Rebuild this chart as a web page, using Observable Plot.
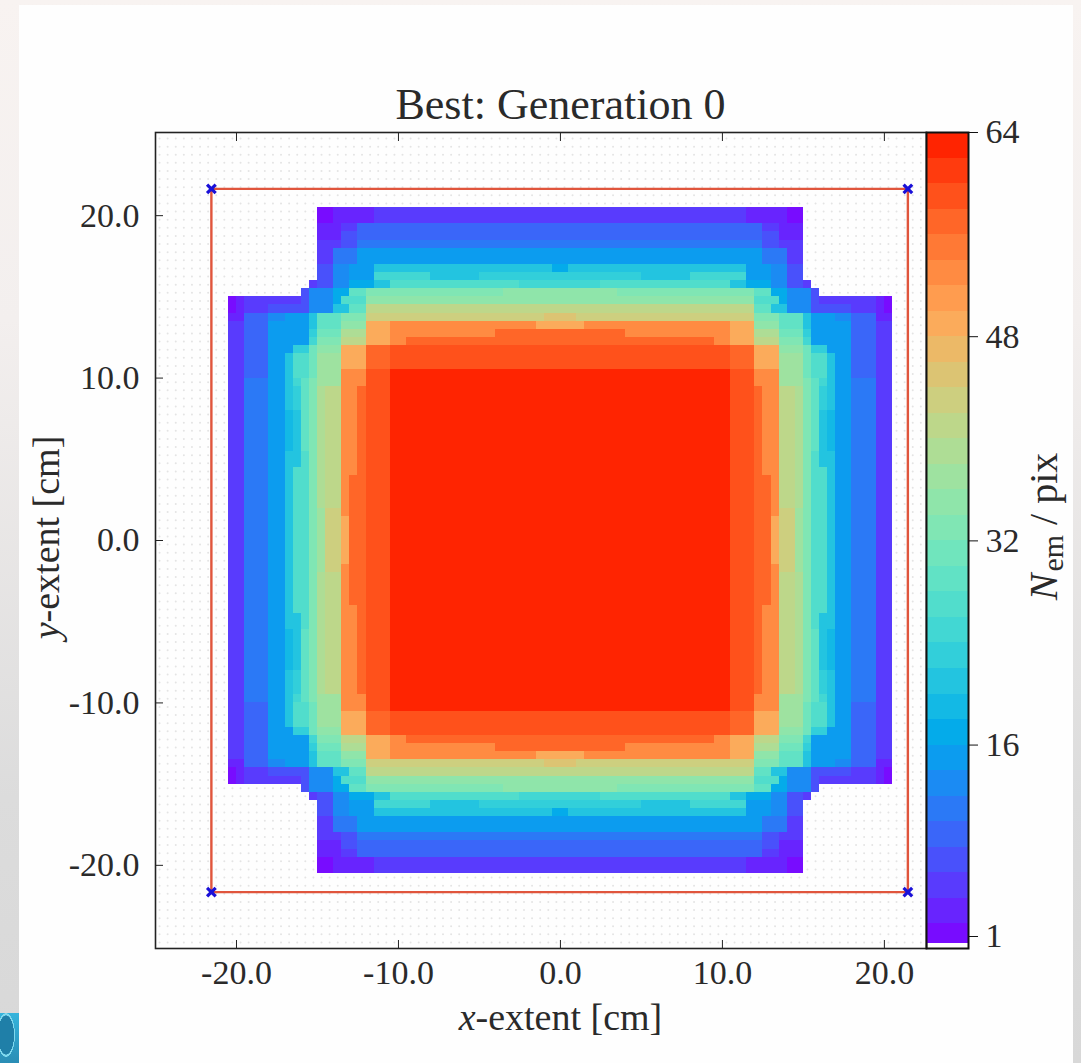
<!DOCTYPE html>
<html><head><meta charset="utf-8">
<script src="https://cdn.jsdelivr.net/npm/d3@7"></script>
<script src="https://cdn.jsdelivr.net/npm/@observablehq/plot@0.6"></script>
<style>
html,body{margin:0;padding:0;width:1081px;height:1063px;overflow:hidden}
body{position:relative;background:linear-gradient(180deg,#f8f3f1 0%,#f3efee 30%,#dcdcdc 75%,#d8d8d8 100%)}
#panel{position:absolute;left:19px;top:5px;width:1054px;height:1058px;background:#fefefe}
#logo{position:absolute;left:0;top:1013px;width:19px;height:50px;background:radial-gradient(ellipse 9px 22px at 6px 22px,#1f7fa8 0 88%,#7fd8ee 90% 98%,transparent 100%),linear-gradient(180deg,#35b4dc,#2a8db5)}
#chart,#bar{position:absolute;left:0;top:0}
svg{background:transparent!important;display:block}
</style></head><body>
<div id="panel"></div><div id="logo"></div><div id="chart"></div><div id="bar"></div>
<script>
// Upper-left quadrant of N_em/pix. Each row (top to bottom, y = 20.5 → 0.5 cm):
// pairs of [first column, value]; column 0 is x = -20.5 cm, column 40 is x = -0.5 cm.
const quadrantRows = [
 [0,0, 11,1, 13,3, 18,5],
 [0,0, 11,1, 13,3, 18,5],
 [0,0, 11,3, 14,5, 16,9],
 [0,0, 11,3, 14,7, 16,9],
 [0,0, 11,5, 14,7, 16,11],
 [0,0, 11,5, 13,11, 16,15],
 [0,0, 11,5, 13,11, 16,15],
 [0,0, 11,7, 13,13, 15,15, 18,21, 40,17],
 [0,0, 11,7, 13,13, 15,15, 18,25, 25,21, 31,23],
 [0,0, 10,5, 11,7, 13,13, 15,17, 18,21, 20,27, 36,25],
 [0,0, 9,7, 10,13, 13,17, 15,29, 17,33, 34,35],
 [0,1, 1,3, 2,5, 9,7, 10,13, 13,17, 14,27, 17,35],
 [0,1, 1,3, 2,5, 5,7, 10,13, 13,21, 15,29, 17,41],
 [0,3, 2,9, 5,13, 7,15, 10,21, 11,29, 14,33, 17,43, 39,45],
 [0,5, 2,9, 5,15, 10,21, 11,29, 14,35, 17,49, 20,53, 38,49],
 [0,5, 2,9, 5,15, 10,23, 11,31, 14,39, 17,49, 20,53, 33,57],
 [0,5, 2,9, 5,15, 10,25, 11,33, 14,41, 17,49, 20,53, 22,57],
 [0,5, 2,9, 5,15, 8,23, 10,31, 11,35, 14,49, 17,57, 20,59],
 [0,5, 2,9, 5,15, 7,21, 8,27, 10,31, 11,37, 14,49, 17,57, 20,59],
 [0,5, 2,9, 5,15, 7,21, 8,27, 10,31, 11,37, 14,49, 17,57, 20,59],
 [0,5, 2,9, 5,15, 7,21, 8,27, 10,31, 11,37, 14,53, 17,59, 20,63],
 [0,5, 2,11, 5,15, 7,21, 8,25, 9,29, 10,33, 11,37, 14,53, 17,59, 20,63],
 [0,5, 2,11, 5,15, 7,21, 8,23, 9,29, 10,33, 11,39, 12,41, 14,53, 16,57, 17,59, 20,63],
 [0,5, 2,11, 5,15, 7,21, 8,23, 9,29, 10,33, 11,39, 12,41, 14,53, 16,57, 17,59, 20,63],
 [0,5, 2,11, 5,15, 7,21, 8,23, 9,29, 10,33, 11,39, 12,41, 14,53, 16,57, 17,59, 20,63],
 [0,5, 2,11, 5,15, 7,19, 8,21, 9,29, 10,33, 11,39, 12,41, 14,53, 16,57, 17,59, 20,63],
 [0,5, 2,11, 5,15, 7,19, 8,21, 9,29, 10,33, 11,39, 12,41, 14,53, 16,57, 17,59, 20,63],
 [0,5, 2,11, 5,15, 7,19, 8,21, 9,29, 10,33, 11,39, 12,41, 14,53, 16,57, 17,59, 20,63],
 [0,5, 2,11, 5,15, 7,19, 8,21, 9,29, 10,33, 11,39, 12,41, 14,53, 16,57, 17,59, 20,63],
 [0,5, 2,11, 5,15, 7,19, 8,21, 9,29, 10,33, 11,39, 12,41, 14,53, 16,57, 17,59, 20,63],
 [0,5, 2,11, 5,15, 7,21, 9,27, 10,33, 11,39, 12,41, 14,53, 16,57, 17,59, 20,63],
 [0,5, 2,11, 5,15, 7,21, 9,27, 10,33, 11,39, 12,41, 14,53, 16,57, 17,59, 20,63],
 [0,5, 2,11, 5,15, 7,21, 8,27, 10,33, 11,39, 12,41, 14,53, 16,57, 17,59, 20,63],
 [0,5, 2,11, 5,15, 7,21, 8,27, 10,33, 11,39, 12,41, 14,53, 15,57, 17,59, 20,63],
 [0,5, 2,11, 5,15, 7,21, 8,27, 10,33, 11,39, 12,41, 14,53, 15,57, 17,59, 20,63],
 [0,5, 2,11, 5,15, 7,21, 8,27, 10,33, 11,39, 12,41, 14,53, 15,57, 17,59, 20,63],
 [0,5, 2,11, 5,15, 7,21, 8,27, 10,33, 11,39, 12,41, 14,53, 15,57, 17,59, 20,63],
 [0,5, 2,11, 5,15, 7,21, 8,27, 10,33, 11,37, 12,43, 14,53, 15,57, 17,59, 20,63],
 [0,5, 2,11, 5,15, 7,21, 8,27, 10,33, 11,37, 12,43, 14,49, 15,57, 17,59, 20,63],
 [0,5, 2,11, 5,15, 7,21, 8,27, 10,33, 11,37, 12,43, 14,49, 15,57, 17,59, 20,63],
 [0,5, 2,11, 5,15, 7,21, 8,27, 10,33, 11,37, 12,43, 14,49, 15,57, 17,59, 20,63]
];
const colorbarLevels = [1,3,5,7,9,11,13,15,17,19,21,23,25,27,29,31,33,35,37,39,41,43,45,47,49,51,53,55,57,59,61,63];
const colorbarTicks = [1,16,32,48,64];
const xTicks = [-20,-10,0,10,20];
const yTicks = [-20,-10,0,10,20];
const boxCorners = [[-21.55,21.65],[21.45,21.65],[21.45,-21.65],[-21.55,-21.65]];
const titleText = "Best: Generation 0";

const FONT = "'Liberation Serif', serif";
const rainbow = t => {
  const s = Math.sin(Math.PI*t);
  const r = Math.min(1, Math.abs(2*t-0.5)), g = s*(1-0.1*s), b = Math.max(0, Math.cos(Math.PI*t/2) - Math.max(0,t-0.5)*0.15);
  return `rgb(${Math.round(r*255)},${Math.round(g*255)},${Math.round(b*255)})`;
};
const colorOpt = {type:"linear", domain:[0,66], interpolate:rainbow};

// Expand runs into a table of cells, mirrored into the four quadrants.
const cells = [];
quadrantRows.forEach((row,r) => {
  const vals = new Array(41).fill(0);
  for (let i=0;i<row.length;i+=2) {
    const end = i+2<row.length ? row[i+2] : 41;
    for (let c=row[i];c<end;c++) vals[c]=row[i+1];
  }
  vals.forEach((N,c) => {
    if (!N) return;
    const xa=-20.5+c*0.5, ya=20.5-r*0.5;
    for (const [sx,sy] of [[1,1],[-1,1],[1,-1],[-1,-1]]) {
      cells.push({x1:sx*xa, x2:sx*(xa+0.5), y1:sy*ya, y2:sy*(ya-0.5), N});
    }
  });
});
// Faint marks of the empty pixel grid behind the map
const gridPts = [];
for (let gx=-24.75; gx<22.6; gx+=0.5) for (let gy=-24.75; gy<25; gy+=0.5) gridPts.push([gx,gy]);

const main = Plot.plot({
  width:1081, height:1063,
  marginLeft:155, marginRight:155, marginTop:132, marginBottom:115,
  x:{domain:[-25,22.6]}, y:{domain:[-25.12,25.12]},
  color:colorOpt,
  style:{fontFamily:FONT, fontSize:"34px", color:"#2a2a2a", background:"transparent"},
  marks:[
    Plot.dot(gridPts,{x:d=>d[0],y:d=>d[1],r:1,fill:"#e4e4e4"}),
    Plot.rect(cells,{x1:"x1",x2:"x2",y1:"y1",y2:"y2",fill:"N",shapeRendering:"crispEdges"}),
    Plot.line([...boxCorners,boxCorners[0]],{x:d=>d[0],y:d=>d[1],stroke:"#e0553c",strokeWidth:2.4}),
    Plot.dot(boxCorners,{x:d=>d[0],y:d=>d[1],symbol:"times",r:4,stroke:"#1a10d8",strokeWidth:3.2}),
    Plot.axisX({anchor:"bottom",ticks:xTicks,tickSize:-8,tickPadding:19,tickFormat:d=>d.toFixed(1),label:null,stroke:"#222"}),
    Plot.axisX({anchor:"top",ticks:xTicks,tickSize:-8,tickFormat:()=>"",label:null,stroke:"#222"}),
    Plot.axisY({anchor:"left",ticks:yTicks,tickSize:-8,tickPadding:24,tickFormat:d=>d.toFixed(1),label:null,stroke:"#222"}),
    Plot.frame({stroke:"#222",strokeWidth:1.6}),
    Plot.text([titleText],{x:()=>0,frameAnchor:"top",dy:-28,fontSize:44,text:d=>d,lineAnchor:"middle",fill:"#2a2a2a"}),
    Plot.text(["x-extent [cm]"],{x:()=>0,frameAnchor:"bottom",dy:69,fontSize:38,text:d=>d,lineAnchor:"middle",fill:"#2a2a2a"}),
    Plot.text(["y-extent [cm]"],{frameAnchor:"left",textAnchor:"middle",dx:-109,dy:-3,rotate:-90,fontSize:38,text:d=>d,fill:"#2a2a2a"})
  ]
});
document.getElementById("chart").append(main);

const bar = Plot.plot({
  width:1081, height:1063,
  marginLeft:926, marginRight:113, marginTop:132, marginBottom:115,
  x:{domain:[0,1],axis:null}, y:{domain:[0.06,64]},
  color:colorOpt,
  style:{fontFamily:FONT, fontSize:"34px", color:"#2a2a2a", background:"transparent"},
  marks:[
    Plot.rect(colorbarLevels,{x1:()=>0,x2:()=>1,y1:d=>d===1?0.45:d-1,y2:d=>d+1,fill:d=>d,shapeRendering:"crispEdges"}),
    Plot.axisY({anchor:"right",ticks:colorbarTicks,tickSize:9,tickPadding:8,tickFormat:d=>String(d),label:null,stroke:"#111"}),
    Plot.frame({stroke:"#111",strokeWidth:2}),
    Plot.text(["Nem/pix"],{frameAnchor:"right",textAnchor:"middle",dx:76,dy:-14,rotate:-90,fontSize:40,text:d=>d,fill:"#2a2a2a"})
  ]
});
document.getElementById("bar").append(bar);

// Rich text: italic variables and the subscript
function rich(root, content, parts){
  const el=[...root.querySelectorAll("text")].find(t=>t.textContent===content);
  if(!el) return;
  el.textContent="";
  const NS="http://www.w3.org/2000/svg";
  parts.forEach(p=>{
    const s=document.createElementNS(NS,"tspan");
    s.textContent=p.t;
    if(p.i) s.setAttribute("font-style","italic");
    if(p.fs) s.setAttribute("font-size",p.fs);
    if(p.dy) s.setAttribute("dy",p.dy);
    if(p.dx) s.setAttribute("dx",p.dx);
    el.appendChild(s);
  });
}
rich(main,"x-extent [cm]",[{t:"x",i:1},{t:"-extent [cm]"}]);
rich(main,"y-extent [cm]",[{t:"y",i:1},{t:"-extent [cm]"}]);
rich(bar,"Nem/pix",[{t:"N",i:1},{t:"em",fs:30,dy:6,dx:2},{t:"/",dy:-6,dx:10},{t:"pix",dx:10}]);
</script>
</body></html>
